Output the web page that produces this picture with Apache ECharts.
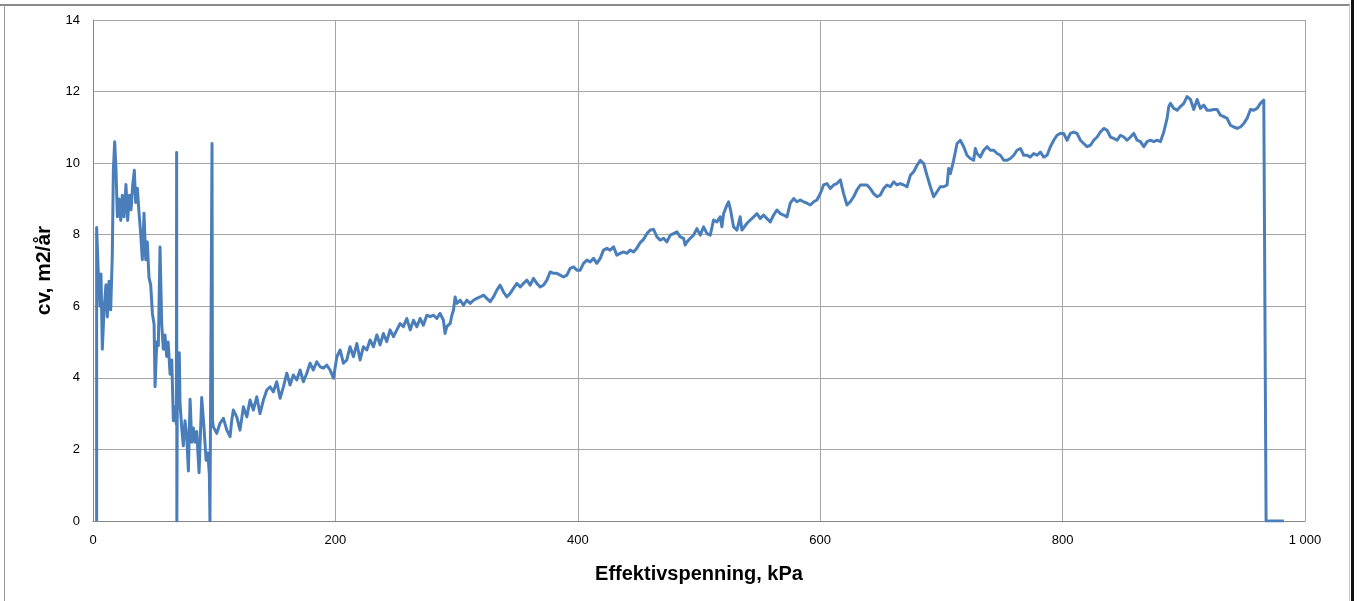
<!DOCTYPE html>
<html>
<head>
<meta charset="utf-8">
<script src="https://cdn.jsdelivr.net/npm/echarts@6/dist/echarts.min.js"></script>
<style>
html,body{margin:0;padding:0;background:#fff;}
#chart{width:1360px;height:601px;}
</style>
</head>
<body>
<div id="chart"></div>
<script>
// Effective stress (kPa)
const pressure = [
3.0,3.0,4.4,5.8,6.6,7.7,9.1,10.7,11.8,13.2,14.6,15.9,16.8,17.9,19.0,20.1,21.5,22.9,24.2,25.6,27.2,28.6,30.0,31.4,32.8,34.1,35.2,36.6,38.0,39.4,40.7,42.1,43.5,44.8,46.2,47.6,49.0,50.4,51.2,52.6,53.9,55.3,56.7,58.0,59.4,60.8,62.0,63.6,65.0,66.3,67.7,68.8,69.0,69.2,69.5,71.2,71.8,73.2,74.5,75.9,77.3,78.7,80.1,81.5,82.8,84.2,85.6,87.5,89.7,91.6,93.3,94.7,96.0,96.5,97.9,98.2,98.6,
99.3,102.1,104.8,107.6,110.4,113.1,114.5,115.8,118.6,121.3,124.1,126.9,129.6,132.3,135.1,137.8,140.6,143.4,146.1,148.8,151.6,154.4,157.1,159.9,162.6,165.3,168.1,170.9,173.6,176.4,179.1,181.8,184.6,187.4,190.1,192.9,195.6,198.4,201.2,203.9,206.6,209.4,212.1,214.9,217.7,220.4,223.1,225.9,228.6,231.4,234.2,236.9,239.6,242.4,245.1,247.9,250.7,253.4,
256.1,258.9,261.7,264.4,267.2,269.9,272.6,275.4,278.2,280.9,283.7,286.4,289.1,290.5,291.9,294.7,296.1,297.4,298.8,300.2,302.9,305.7,308.4,311.2,313.9,316.7,319.4,322.2,324.9,327.7,330.4,333.2,335.9,338.7,341.4,344.2,346.9,349.7,352.5,355.2,358.0,360.7,363.4,366.2,369.0,371.7,374.5,377.2,380.0,382.7,385.5,388.2,391.0,393.7,396.5,399.2,402.0,404.7,407.5,410.2,413.0,415.7,418.5,421.2,424.0,426.7,429.5,432.2,435.0,437.7,440.5,443.2,446.0,448.7,
451.5,454.2,457.0,459.8,462.5,465.3,468.0,470.8,473.5,476.3,479.0,481.8,484.5,487.3,488.6,490.1,492.8,495.5,498.3,501.0,503.8,506.6,509.3,512.0,514.8,517.5,518.9,520.3,523.1,524.4,525.8,528.5,531.3,534.0,535.4,536.8,539.6,542.3,545.1,547.8,550.6,553.3,556.1,558.8,561.6,564.3,567.1,569.8,572.6,575.3,578.1,580.8,583.6,586.3,589.1,591.8,594.6,597.3,600.1,602.8,605.6,608.3,611.1,613.8,616.6,619.3,622.1,624.8,627.6,630.3,633.1,635.8,638.6,641.3,644.1,646.9,649.6,
652.4,655.1,657.9,660.6,663.4,666.1,668.9,671.6,674.4,677.1,679.9,682.6,685.4,688.1,690.9,693.6,695.0,696.4,699.1,701.9,704.7,706.0,707.4,710.1,712.9,715.6,718.4,721.1,723.9,726.6,728.0,729.4,732.1,734.9,737.7,740.4,743.2,745.9,748.7,751.4,754.2,756.9,759.7,762.4,765.2,767.9,770.7,773.4,776.2,778.9,781.7,784.4,787.2,789.9,792.7,795.4,798.2,800.9,803.7,806.4,809.2,811.9,814.7,817.4,820.2,823.0,825.7,828.5,831.2,834.0,836.7,839.5,842.2,845.0,
847.7,850.5,853.2,856.0,858.7,861.5,864.2,867.0,869.7,872.5,875.2,878.0,880.7,883.5,886.2,887.6,889.0,891.7,894.5,897.2,900.0,902.7,905.5,908.2,911.0,913.7,916.5,919.2,922.0,924.7,927.5,930.2,933.0,935.7,938.5,941.2,944.0,946.7,949.5,952.2,955.0,957.7,960.5,963.2,966.0,967.4,967.9,982.5
];
// cv (m2/år)
const cv = [
0,8.2,6.9,6.0,6.9,4.8,5.9,6.6,5.7,6.7,5.9,7.4,9.8,10.6,9.8,8.5,9.0,8.4,9.1,8.5,9.4,8.4,9.1,8.7,9.4,9.8,8.9,9.3,8.6,8.0,7.3,8.6,7.3,7.8,6.8,6.6,5.8,5.5,3.75,5.0,4.9,7.66,5.5,4.8,5.2,4.6,5.0,4.1,4.5,2.8,3.2,2.7,10.3,0,3.0,4.7,3.3,2.6,2.1,2.8,2.4,1.4,3.4,2.2,2.6,2.2,2.5,1.35,3.45,2.6,1.7,1.9,1.3,0,0,10.55,2.8,
2.63,2.45,2.73,2.87,2.54,2.36,2.82,3.1,2.91,2.54,3.19,2.91,3.38,3.1,3.47,3.0,3.38,3.66,3.75,3.61,3.89,3.43,3.75,4.13,3.80,4.08,3.94,4.22,3.89,4.13,4.41,4.22,4.45,4.31,4.27,4.36,4.22,3.99,4.59,4.78,4.41,4.5,4.87,4.59,4.96,4.5,4.87,4.78,5.06,4.87,5.2,4.92,5.24,5.01,5.34,5.15,5.34,5.52,
5.43,5.66,5.34,5.61,5.43,5.66,5.47,5.75,5.71,5.75,5.66,5.80,5.61,5.24,5.43,5.52,5.75,5.89,6.26,6.08,6.17,6.03,6.17,6.08,6.17,6.22,6.26,6.31,6.22,6.13,6.26,6.45,6.59,6.40,6.26,6.36,6.50,6.64,6.54,6.64,6.73,6.59,6.78,6.64,6.54,6.59,6.73,6.96,6.92,6.92,6.87,6.82,6.87,7.06,7.10,7.01,7.01,7.20,7.29,7.24,7.34,7.20,7.34,7.57,7.62,7.57,7.66,7.43,7.48,7.52,7.48,7.57,7.52,7.62,
7.78,7.87,8.03,8.13,8.15,7.94,7.85,7.90,7.80,7.99,8.03,8.08,7.94,7.90,7.71,7.80,7.90,7.99,8.17,7.99,8.22,8.03,7.99,8.41,8.36,8.50,8.22,8.59,8.83,8.92,8.73,8.22,8.13,8.50,8.13,8.08,8.32,8.41,8.50,8.59,8.45,8.55,8.45,8.36,8.55,8.69,8.59,8.55,8.50,8.88,9.01,8.92,8.97,8.92,8.88,8.83,8.92,8.97,9.15,9.39,9.43,9.29,9.39,9.43,9.53,9.15,8.83,8.92,9.06,9.25,9.39,9.39,9.39,9.29,9.15,9.06,9.11,
9.29,9.39,9.34,9.48,9.39,9.43,9.39,9.34,9.66,9.76,9.94,10.08,9.99,9.66,9.34,9.06,9.01,9.20,9.34,9.34,9.39,9.85,9.71,10.08,10.55,10.64,10.46,10.22,10.13,10.08,10.41,10.27,10.17,10.36,10.46,10.36,10.36,10.27,10.22,10.08,10.08,10.13,10.22,10.36,10.41,10.22,10.22,10.17,10.27,10.22,10.31,10.17,10.22,10.46,10.64,10.78,10.83,10.83,10.64,10.83,10.87,10.83,10.64,10.55,10.46,10.50,10.64,10.73,10.87,10.97,10.92,10.73,10.69,10.64,
10.78,10.73,10.64,10.73,10.83,10.64,10.60,10.46,10.60,10.64,10.60,10.64,10.60,10.87,11.25,11.58,11.67,11.53,11.48,11.58,11.67,11.86,11.78,11.50,11.78,11.53,11.62,11.48,11.48,11.50,11.50,11.34,11.30,11.25,11.06,11.01,10.97,11.01,11.11,11.25,11.50,11.48,11.53,11.67,11.76,11.78,0,0
];
const yTicks = [0,2,4,6,8,10,12,14];
const xTicks = [0,200,400,600,800,1000];
const xTickLabels = ['0','200','400','600','800','1 000'];

const data = pressure.map((p,i)=>[p,cv[i]]);
const chart = echarts.init(document.getElementById('chart'), null, {renderer:'canvas'});
const FONT = '"Liberation Sans", Arial, sans-serif';
chart.setOption({
  animation:false,
  backgroundColor:'#ffffff',
  grid:{left:93,right:55,top:20,bottom:80,show:false},
  xAxis:{
    type:'value',min:0,max:1000,interval:200,
    name:'Effektivspenning, kPa',nameLocation:'middle',nameGap:43,
    nameTextStyle:{fontFamily:FONT,fontSize:20,fontWeight:'bold',color:'#000'},
    axisLine:{show:true,lineStyle:{color:'#868686',width:1}},
    axisTick:{show:false},
    axisLabel:{fontFamily:FONT,fontSize:13,color:'#000',margin:13,
      formatter:v=>xTickLabels[xTicks.indexOf(v)]},
    splitLine:{show:true,lineStyle:{color:'#a6a6a6',width:1}}
  },
  yAxis:{
    type:'value',min:0,max:14,interval:2,
    name:'cv, m2/år',nameLocation:'middle',nameGap:32,nameRotate:90,
    nameTextStyle:{fontFamily:FONT,fontSize:21,fontWeight:'bold',color:'#000'},
    axisLine:{show:true,lineStyle:{color:'#868686',width:1}},
    axisTick:{show:false},
    axisLabel:{fontFamily:FONT,fontSize:13,color:'#000',margin:13,
      formatter:v=>String(yTicks[yTicks.indexOf(v)])},
    splitLine:{show:true,lineStyle:{color:'#a6a6a6',width:1}}
  },
  series:[{
    type:'line',data:data,showSymbol:false,symbol:'none',
    lineStyle:{color:'#4a7ebb',width:3,join:'round'},
    z:3
  }],
  graphic:[
    {type:'line',shape:{x1:0,y1:5,x2:1350,y2:5},style:{stroke:'#8a8a8a',lineWidth:2},silent:true},
    {type:'line',shape:{x1:4.5,y1:5,x2:4.5,y2:601},style:{stroke:'#9a9a9a',lineWidth:1},silent:true},
    {type:'line',shape:{x1:1349.5,y1:5,x2:1349.5,y2:601},style:{stroke:'#c8c8c8',lineWidth:1},silent:true},
    {type:'rect',shape:{x:1351,y:0,width:3,height:601},style:{fill:'#111111'},silent:true}
  ]
});
</script>
</body>
</html>
